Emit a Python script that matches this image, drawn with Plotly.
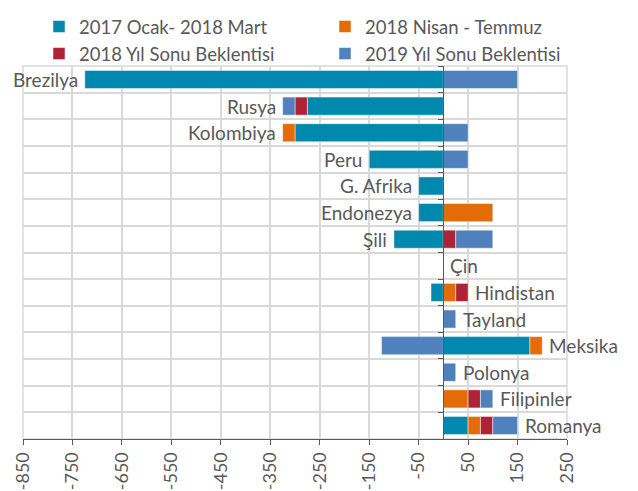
import plotly.graph_objects as go

categories = ["Brezilya", "Rusya", "Kolombiya", "Peru", "G. Afrika", "Endonezya", "Şili",
              "Çin", "Hindistan", "Tayland", "Meksika", "Polonya", "Filipinler", "Romanya"]
s_2017 = [-725, -275, -300, -150, -50, -50, -100, 0, -25, 0, 175, 0, 0, 50]
s_2018_nt = [0, 0, -25, 0, 0, 100, 0, 0, 25, 0, 25, 0, 50, 25]
s_2018_ys = [0, -25, 0, 0, 0, 0, 25, 0, 25, 0, 0, 0, 25, 25]
s_2019_ys = [150, -25, 50, 50, 0, 0, 75, 0, 0, 25, -125, 25, 25, 50]
series_names = ["2017 Ocak- 2018 Mart", "2018 Nisan - Temmuz",
                "2018 Yıl Sonu Beklentisi", "2019 Yıl Sonu Beklentisi"]
label_side = ["left"] * 7 + ["right"] * 7
x_ticks = list(range(-850, 251, 100))

colors = ["#0088AE", "#E36C09", "#AE2335", "#4F81BD"]
legend_of = ["legend", "legend2", "legend", "legend2"]
FONT = "Lato"
GREY = "#595959"

fig = go.Figure()
all_series = [s_2017, s_2018_nt, s_2018_ys, s_2019_ys]
for k, (name, vals, col) in enumerate(zip(series_names, all_series, colors)):
    fig.add_trace(go.Bar(
        y=categories, x=[v if v != 0 else None for v in vals], name=name,
        orientation="h", legend=legend_of[k], legendgroup=f"g{k}",
        marker=dict(color=col, line=dict(color="rgba(255,255,255,0.6)", width=0.8)),
    ))

for i, cat in enumerate(categories):
    neg = sum(s[i] for s in all_series if s[i] < 0)
    pos = sum(s[i] for s in all_series if s[i] > 0)
    if label_side[i] == "left":
        fig.add_annotation(x=neg, y=cat, text=cat, xanchor="right", xshift=-5,
                           showarrow=False, font=dict(family=FONT, size=19, color=GREY))
    else:
        fig.add_annotation(x=pos, y=cat, text=cat, xanchor="left", xshift=5,
                           showarrow=False, font=dict(family=FONT, size=19, color=GREY))

leg_common = dict(orientation="v", xref="container", yref="container",
                  xanchor="left", yanchor="top", y=1.020,
                  font=dict(family=FONT, size=18.5, color=GREY),
                  traceorder="grouped", tracegroupgap=0, itemwidth=30,
                  bgcolor="rgba(0,0,0,0)", borderwidth=0)
fig.update_layout(
    width=638, height=491,
    margin=dict(l=15, r=79, t=58, b=60, autoexpand=False),
    barmode="relative", bargap=0.32,
    plot_bgcolor="white", paper_bgcolor="white",
    font=dict(family=FONT, size=19, color=GREY),
    legend=dict(x=31 / 638, **leg_common),
    legend2=dict(x=317 / 638, **leg_common),
    showlegend=True,
)
fig.update_xaxes(range=[-850, 250], tickvals=x_ticks, ticktext=[str(t) for t in x_ticks],
                 tickangle=-90, showgrid=True, gridcolor="#D9D9D9", gridwidth=1.5,
                 showline=True, linecolor="#595959", linewidth=1, ticks="outside",
                 ticklen=5, tickcolor="#595959", zeroline=False, automargin=False,
                 ticklabelstandoff=0,
                 tickfont=dict(family=FONT, size=18, color=GREY), mirror=False)
fig.update_yaxes(type="category", autorange="reversed", tickson="boundaries",
                 showgrid=True, gridcolor="#D9D9D9", gridwidth=1.5,
                 showticklabels=False, anchor="free", position=850 / 1100,
                 showline=True, linecolor="#595959", linewidth=1, ticks="outside",
                 ticklen=5, tickcolor="#595959", zeroline=False, automargin=False)
fig.add_shape(type="rect", xref="paper", yref="paper", x0=0, x1=1, y0=0, y1=1,
              line=dict(color="#D9D9D9", width=1.5), layer="below")

fig.write_html("out.html")
